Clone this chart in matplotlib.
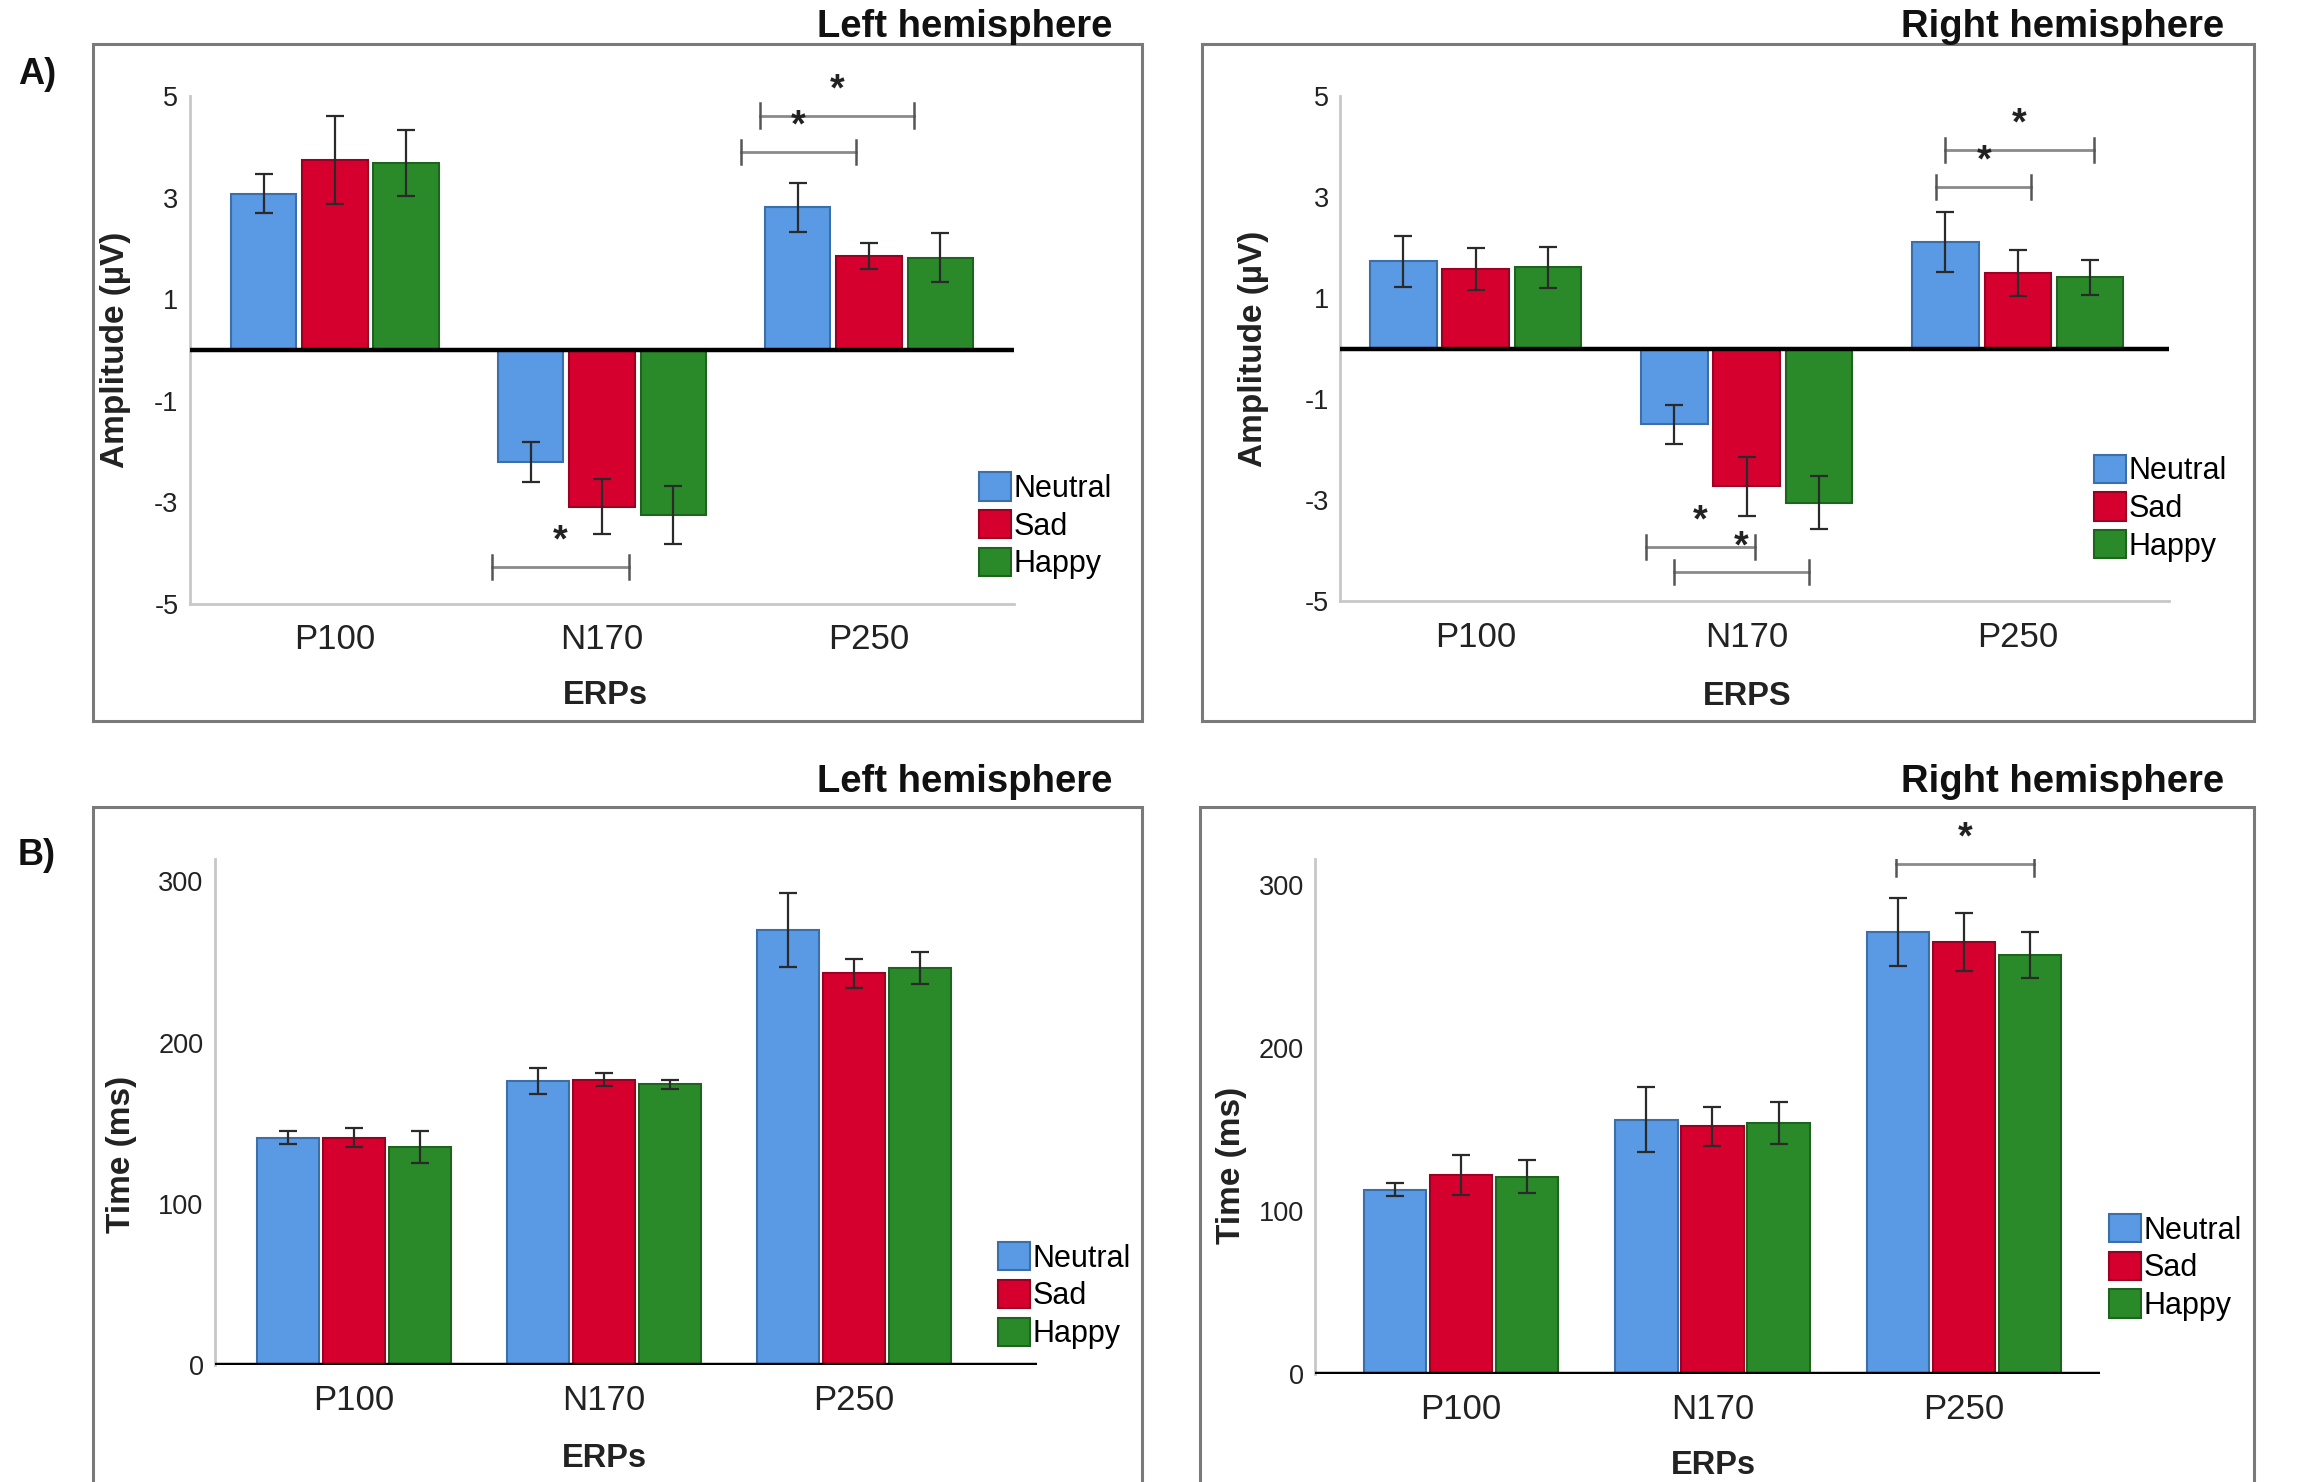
import matplotlib
matplotlib.use('Agg')
import matplotlib.pyplot as plt
from matplotlib.patches import Rectangle, Patch

# ─────────────────────────────────────────────
# DATA
# ─────────────────────────────────────────────
erps = ['P100', 'N170', 'P250']
conds = ['Neutral', 'Sad', 'Happy']

# A) amplitude (µV)
amp_left = [[3.08, -2.20, 2.81],     # Neutral
            [3.75, -3.08, 1.85],     # Sad
            [3.69, -3.25, 1.82]]     # Happy
amp_left_err = [[0.38, 0.40, 0.48],
                [0.87, 0.54, 0.26],
                [0.65, 0.57, 0.48]]
amp_right = [[1.73, -1.50, 2.11],
             [1.58, -2.73, 1.50],
             [1.61, -3.05, 1.41]]
amp_right_err = [[0.50, 0.38, 0.60],
                 [0.41, 0.58, 0.45],
                 [0.41, 0.52, 0.35]]

# B) latency (ms)
lat_left = [[141, 176, 270],
            [141, 177, 243],
            [135, 174, 246]]
lat_left_err = [[4, 8, 23],
                [6, 4, 9],
                [10, 3, 10]]
lat_right = [[113, 156, 271],
             [122, 152, 265],
             [121, 154, 257]]
lat_right_err = [[4, 20, 21],
                 [12, 12, 18],
                 [10, 13, 14]]

# significance brackets: (x_start, x_end, y) in category units
sig_amp_left = [(1.59, 2.17, 4.62), (1.52, 1.95, 3.90), (0.59, 1.10, -4.27)]
sig_amp_right = [(1.73, 2.28, 3.93), (1.70, 2.05, 3.20),
                 (0.63, 1.03, -3.93), (0.73, 1.23, -4.43)]
sig_lat_left = []
sig_lat_right = [(1.73, 2.28, 313)]

# ─────────────────────────────────────────────
# STYLE
# ─────────────────────────────────────────────
C_BAR = ['#5A99E3', '#D6002F', '#2A8A2A']
C_EDGE = ['#3A6FA8', '#9A0022', '#1E641E']
C_ERR = '#2a2a2a'
C_SIG = '#8a8a8a'
C_TXT = '#222222'
C_BOX = '#7a7a7a'

plt.rcParams['font.family'] = ['Liberation Sans', 'DejaVu Sans']

W, H = 1568.0, 1001.0   # reference coords (shown size)
fig = plt.figure(figsize=(23.22, 14.82), dpi=100)


def fx(x):
    return x / W


def fy(y):
    return 1 - y / H


def rect(x0, y0, x1, y1):
    return [fx(x0), fy(y1), fx(x1) - fx(x0), fy(y0) - fy(y1)]


# panel boxes
for (x0, y0, x1, y1) in [(63, 30, 771, 487), (812, 30, 1522, 487),
                         (63, 545, 771, 1005), (810, 545, 1522, 1005)]:
    fig.add_artist(Rectangle((fx(x0), fy(y1)), fx(x1) - fx(x0), fy(y0) - fy(y1),
                             transform=fig.transFigure, fill=False,
                             edgecolor=C_BOX, lw=2.2))

for txt, x, y in [('Left hemisphere', 751, 18), ('Right hemisphere', 1502, 18),
                  ('Left hemisphere', 751, 528), ('Right hemisphere', 1502, 528)]:
    fig.text(fx(x), fy(y), txt, ha='right', va='center', fontsize=27.5,
             fontweight='bold', color='#111111')
fig.text(fx(12), fy(50), 'A)', ha='left', va='center', fontsize=26,
         fontweight='bold', color='#111111')
fig.text(fx(12), fy(578), 'B)', ha='left', va='center', fontsize=26,
         fontweight='bold', color='#111111')


def panel(box, vals, errs, sigs, ylim, yticks, xlim, ylab, xlab,
          ylab_xy, xlab_xy, leg_xy, bottom_line, offset=0.267, width=0.245):
    ax = fig.add_axes(rect(*box))
    for j in range(3):
        xs = [i + (j - 1) * offset for i in range(3)]
        ax.bar(xs, vals[j], width, color=C_BAR[j], edgecolor=C_EDGE[j],
               lw=1.5, zorder=2)
        ax.errorbar(xs, vals[j], yerr=errs[j], fmt='none', ecolor=C_ERR,
                    elinewidth=1.6, capsize=6.5, capthick=1.6, zorder=3)
    ax.axhline(0, color='black', lw=3.2, zorder=4)
    tick_h = (ylim[1] - ylim[0]) * 0.024
    for x0, x1, y in sigs:
        ax.plot([x0, x1], [y, y], color=C_SIG, lw=2, zorder=5)
        ax.plot([x0, x0], [y - tick_h, y + tick_h], color='#555555', lw=1.8, zorder=5)
        ax.plot([x1, x1], [y - tick_h, y + tick_h], color='#555555', lw=1.8, zorder=5)
        ax.text((x0 + x1) / 2, y + tick_h * 0.6, '*', ha='center', va='bottom',
                fontsize=27, fontweight='bold', color=C_TXT, zorder=5)
    ax.set_xlim(*xlim)
    ax.set_ylim(*ylim)
    ax.set_xticks(range(3))
    ax.set_xticklabels(erps, fontsize=25, color=C_TXT)
    ax.set_yticks(yticks)
    ax.set_yticklabels([str(t) for t in yticks], fontsize=19.5, color=C_TXT)
    ax.tick_params(axis='both', length=0)
    ax.tick_params(axis='x', pad=14)
    ax.tick_params(axis='y', pad=8)
    for s in ['top', 'right']:
        ax.spines[s].set_visible(False)
    ax.spines['left'].set_color('#c8c8c8')
    ax.spines['left'].set_linewidth(2)
    if bottom_line:
        ax.spines['bottom'].set_color('#c8c8c8')
        ax.spines['bottom'].set_linewidth(2)
    else:
        ax.spines['bottom'].set_visible(False)
    ax.set_ylabel(ylab, fontsize=24, fontweight='bold', color=C_TXT)
    ax.yaxis.set_label_coords(*ylab_xy)
    ax.yaxis.label.set_va('center')
    ax.set_xlabel(xlab, fontsize=23.5, fontweight='bold', color=C_TXT)
    ax.xaxis.set_label_coords(*xlab_xy)
    ax.xaxis.label.set_va('center')
    handles = [Patch(facecolor=C_BAR[j], edgecolor=C_EDGE[j], lw=1.5,
                     label=conds[j]) for j in range(3)]
    ax.legend(handles=handles, loc='upper left',
              bbox_to_anchor=(fx(leg_xy[0]), fy(leg_xy[1])),
              bbox_transform=fig.transFigure, frameon=False, fontsize=22,
              handlelength=1.05, handleheight=1.05, handletextpad=0.08,
              labelspacing=0.2, borderpad=0, borderaxespad=0)
    return ax


panel((128, 65, 685, 408), amp_left, amp_left_err, sig_amp_left,
      (-5, 5), [5, 3, 1, -1, -3, -5], (-0.544, 2.544),
      'Amplitude (µV)', 'ERPs', (-0.09, 0.5), (0.504, -0.18),
      (661, 319), True)
panel((905, 65, 1465, 406), amp_right, amp_right_err, sig_amp_right,
      (-5, 5), [5, 3, 1, -1, -3, -5], (-0.5, 2.56),
      'Amplitude (µV)', 'ERPS', (-0.105, 0.5), (0.491, -0.188),
      (1414, 307), True)
panel((145, 580, 700, 922), lat_left, lat_left_err, sig_lat_left,
      (0, 314), [0, 100, 200, 300], (-0.556, 2.73),
      'Time (ms)', 'ERPs', (-0.113, 0.415), (0.474, -0.184),
      (674, 839), False, offset=0.263, width=0.248)
panel((888, 580, 1418, 928), lat_right, lat_right_err, sig_lat_right,
      (0, 316), [0, 100, 200, 300], (-0.58, 2.54),
      'Time (ms)', 'ERPs', (-0.106, 0.405), (0.508, -0.178),
      (1424, 820), False, offset=0.263, width=0.248)

fig.savefig('out.png', dpi=100, facecolor='white')
